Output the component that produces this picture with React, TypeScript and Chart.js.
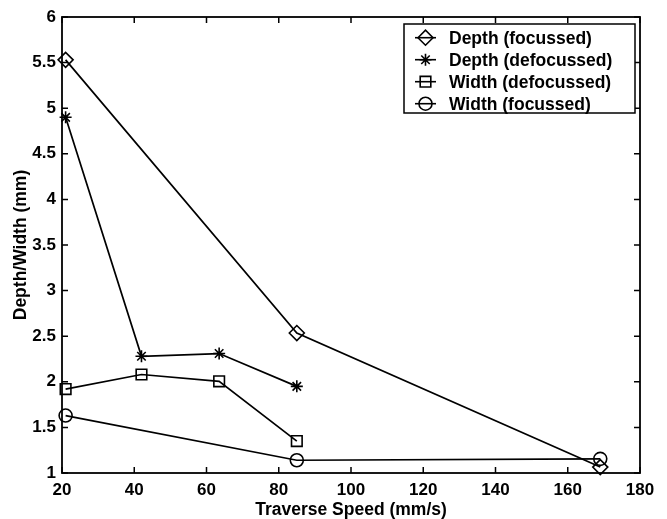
import React, { useEffect, useRef } from 'react';
import { Chart, registerables } from 'chart.js';

Chart.register(...registerables);

// ---- data ----
const seriesNames = ['Depth (focussed)', 'Depth (defocussed)', 'Width (defocussed)', 'Width (focussed)'];
const depthFocussedX = [21, 85, 169];
const depthFocussedY = [5.53, 2.535, 1.065];
const depthDefocussedX = [21, 42, 63.5, 85];
const depthDefocussedY = [4.9, 2.28, 2.31, 1.95];
const widthDefocussedX = [21, 42, 63.5, 85];
const widthDefocussedY = [1.92, 2.08, 2.005, 1.35];
const widthFocussedX = [21, 85, 169];
const widthFocussedY = [1.63, 1.14, 1.155];
const xTicks = [20, 40, 60, 80, 100, 120, 140, 160, 180];
const yTicks = [1, 1.5, 2, 2.5, 3, 3.5, 4, 4.5, 5, 5.5, 6];
const xTitle = 'Traverse Speed (mm/s)';
const yTitle = 'Depth/Width (mm)';

// ---- styles ----
const FONT = "'Liberation Sans', Arial, Helvetica, sans-serif";
const markerStyles = ['rectRot', 'star', 'rect', 'circle'];
const markerRadii = [7.5, 6, 7.5, 6.5];

function drawMarker(ctx: CanvasRenderingContext2D, style: string, x: number, y: number, r: number) {
  ctx.beginPath();
  if (style === 'rectRot') {
    ctx.moveTo(x - r, y);
    ctx.lineTo(x, y - r);
    ctx.lineTo(x + r, y);
    ctx.lineTo(x, y + r);
    ctx.closePath();
  } else if (style === 'rect') {
    const s = r * Math.SQRT1_2;
    ctx.rect(x - s, y - s, 2 * s, 2 * s);
  } else if (style === 'circle') {
    ctx.arc(x, y, r, 0, Math.PI * 2);
  } else if (style === 'star') {
    ctx.moveTo(x - r, y); ctx.lineTo(x + r, y);
    ctx.moveTo(x, y - r); ctx.lineTo(x, y + r);
    const d = r * Math.SQRT1_2;
    ctx.moveTo(x - d, y - d); ctx.lineTo(x + d, y + d);
    ctx.moveTo(x - d, y + d); ctx.lineTo(x + d, y - d);
  }
  ctx.stroke();
}

const framePlugin = {
  id: 'frameAndLegend',
  afterDraw(chart: any) {
    const ctx: CanvasRenderingContext2D = chart.ctx;
    const { left, right, top, bottom } = chart.chartArea;
    const xs = chart.scales.x;
    const ys = chart.scales.y;
    ctx.save();
    ctx.strokeStyle = '#000';
    ctx.lineWidth = 1.8;
    ctx.strokeRect(left, top, right - left, bottom - top);
    ctx.lineWidth = 1.5;
    const tl = 6;
    ctx.beginPath();
    xTicks.forEach((v) => {
      const px = xs.getPixelForValue(v);
      ctx.moveTo(px, bottom); ctx.lineTo(px, bottom - tl);
      ctx.moveTo(px, top); ctx.lineTo(px, top + tl);
    });
    yTicks.forEach((v) => {
      const py = ys.getPixelForValue(v);
      ctx.moveTo(left, py); ctx.lineTo(left + tl, py);
      ctx.moveTo(right, py); ctx.lineTo(right - tl, py);
    });
    ctx.stroke();

    // legend
    const boxW = 231;
    const boxH = 89;
    const boxRight = right - 5;
    const boxLeft = boxRight - boxW;
    const boxTop = top + 7;
    ctx.fillStyle = '#fff';
    ctx.fillRect(boxLeft, boxTop, boxW, boxH);
    ctx.strokeRect(boxLeft, boxTop, boxW, boxH);
    ctx.font = `bold 17.5px ${FONT}`;
    ctx.textBaseline = 'middle';
    ctx.textAlign = 'left';
    ctx.lineWidth = 1.6;
    seriesNames.forEach((name, i) => {
      const ry = boxTop + 13.7 + i * 22;
      ctx.beginPath();
      ctx.moveTo(boxLeft + 11, ry);
      ctx.lineTo(boxLeft + 32, ry);
      ctx.stroke();
      drawMarker(ctx, markerStyles[i], boxLeft + 21.5, ry, markerRadii[i]);
      ctx.fillStyle = '#000';
      ctx.fillText(name, boxLeft + 45, ry + 1);
    });
    ctx.restore();
  },
};

function pts(xv: number[], yv: number[]) {
  return xv.map((x, i) => ({ x, y: yv[i] }));
}

export default function App() {
  const ref = useRef<HTMLCanvasElement | null>(null);
  useEffect(() => {
    if (!ref.current) return;
    const seriesData = [
      pts(depthFocussedX, depthFocussedY),
      pts(depthDefocussedX, depthDefocussedY),
      pts(widthDefocussedX, widthDefocussedY),
      pts(widthFocussedX, widthFocussedY),
    ];
    const chart = new Chart(ref.current, {
      type: 'line',
      data: {
        datasets: seriesData.map((d, i) => ({
          label: seriesNames[i],
          data: d,
          borderColor: '#000',
          borderWidth: 1.7,
          backgroundColor: 'rgba(0,0,0,0)',
          pointStyle: markerStyles[i] as any,
          pointRadius: markerRadii[i],
          pointBorderColor: '#000',
          pointBackgroundColor: 'rgba(0,0,0,0)',
          pointBorderWidth: 1.6,
          tension: 0,
          fill: false,
          clip: false as any,
        })),
      },
      options: {
        animation: false,
        responsive: false,
        maintainAspectRatio: false,
        devicePixelRatio: 1,
        layout: { padding: { left: 0, right: 27, top: 17, bottom: 0 } },
        plugins: { legend: { display: false }, tooltip: { enabled: false } },
        scales: {
          x: {
            type: 'linear',
            min: 20,
            max: 180,
            afterBuildTicks: (s: any) => { s.ticks = xTicks.map((v) => ({ value: v })); },
            afterFit: (s: any) => { s.height = 46; },
            grid: { display: false, tickLength: 0 },
            border: { display: false },
            ticks: { color: '#000', padding: 7, maxRotation: 0, callback: (v: any) => String(v), font: { family: FONT, size: 17, weight: 'bold' } },
            title: { display: true, text: xTitle, color: '#000', padding: { top: 0, bottom: 0 }, font: { family: FONT, size: 17.5, weight: 'bold', lineHeight: 1 } },
          },
          y: {
            type: 'linear',
            min: 1,
            max: 6,
            afterBuildTicks: (s: any) => { s.ticks = yTicks.map((v) => ({ value: v })); },
            afterFit: (s: any) => { s.width = 62; },
            grid: { display: false, tickLength: 0 },
            border: { display: false },
            ticks: { color: '#000', padding: 6, callback: (v: any) => String(v), font: { family: FONT, size: 17, weight: 'bold' } },
            title: { display: true, text: yTitle, color: '#000', padding: { top: 12, bottom: 0 }, font: { family: FONT, size: 17.5, weight: 'bold', lineHeight: 1 } },
          },
        },
      },
      plugins: [framePlugin],
    });
    return () => chart.destroy();
  }, []);
  return (
    <div style={{ position: 'fixed', left: 0, top: 0, width: 667, height: 519, background: '#fff' }}>
      <canvas ref={ref} width={667} height={519} style={{ width: 667, height: 519, display: 'block' }} />
    </div>
  );
}
